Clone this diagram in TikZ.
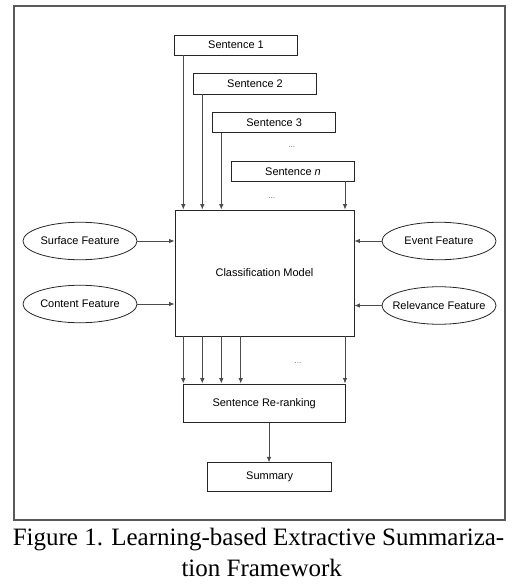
\documentclass[tikz,border=0pt]{standalone}
\usepackage{fontspec}
\setmainfont{Liberation Serif}
\newfontfamily\diag{Liberation Sans}
\usetikzlibrary{shapes.geometric,arrows.meta}
\begin{document}
\begin{tikzpicture}[x=1pt,y=-1pt,
  box/.style={draw=black!85, line width=0.8pt, inner sep=0pt, rectangle,
    font=\diag\fontsize{11}{13}\selectfont},
  feat/.style={draw=black!85, line width=0.8pt, inner ysep=0pt, inner xsep=-12pt, ellipse,
    minimum width=114pt, minimum height=37.5pt,
    font=\diag\fontsize{11}{13}\selectfont},
  arr/.style={draw=black!70, line width=0.8pt, -{Latex[length=5.5pt,width=4.5pt]}},
  dots/.style={font=\diag\fontsize{8}{9}\selectfont, text=black!60, inner sep=0pt},
  frame/.style={draw=black!65, line width=1.3pt},
  captext/.style={font=\fontsize{25}{30}\selectfont, anchor=base, inner sep=0pt}]
\useasboundingbox (0,0) rectangle (523,586);
\draw[frame] (14,6) rectangle (505,520);
% sentence boxes
\node[box, minimum width=123.4pt, minimum height=20pt] (s1) at (236,45) {Sentence 1};
\node[box, minimum width=123.4pt, minimum height=20.5pt] (s2) at (255,83.7) {Sentence 2};
\node[box, minimum width=123pt, minimum height=20pt] (s3) at (274.2,122.7) {Sentence 3};
\node[box, minimum width=122.6pt, minimum height=19.3pt] (sn) at (293,171.3) {Sentence \textit{n}};
\node[dots] (d1) at (291.7,146.7) {...};
\node[dots] (d2) at (271.7,197.7) {...};
% main
\node[box, minimum width=179pt, minimum height=126pt] (cls) at (264.5,273) {Classification Model};
\node[box, minimum width=161.7pt, minimum height=38.7pt] (rr) at (264.2,403.3) {Sentence Re-ranking};
\node[box, minimum width=124pt, minimum height=28.3pt] (sum) at (269.7,477) {Summary};
\node[dots] (d3) at (298,363) {...};
% features
\node[feat] (sf) at (80,241) {Surface Feature};
\node[feat] (cf) at (80,304) {Content Feature};
\node[feat] (ef) at (439,241) {Event Feature};
\node[feat] (rf) at (439,305.5) {Relevance Feature};
% x positions
\coordinate (x1) at (183.3,0);
\coordinate (x2) at (202.3,0);
\coordinate (x3) at (221.3,0);
\coordinate (x4) at (240.7,0);
\coordinate (x5) at (345,0);
\coordinate (x6) at (269,0);
% sentence arrows
\draw[arr] (s1.south -| x1) -- (cls.north -| x1);
\draw[arr] (s2.south -| x2) -- (cls.north -| x2);
\draw[arr] (s3.south -| x3) -- (cls.north -| x3);
\draw[arr] (sn.south -| x5) -- (cls.north -| x5);
% output arrows
\draw[arr] (cls.south -| x1) -- (rr.north -| x1);
\draw[arr] (cls.south -| x2) -- (rr.north -| x2);
\draw[arr] (cls.south -| x3) -- (rr.north -| x3);
\draw[arr] (cls.south -| x4) -- (rr.north -| x4);
\draw[arr] (cls.south -| x5) -- (rr.north -| x5);
\draw[arr] (rr.south -| x6) -- (sum.north -| x6);
% feature arrows
\draw[arr] (sf.east) -- (sf.east -| cls.west);
\draw[arr] (cf.east) -- (cf.east -| cls.west);
\draw[arr] (ef.west) -- (ef.west -| cls.east);
\draw[arr] (rf.west) -- (rf.west -| cls.east);
% caption
\node[captext] (c1) at (258.5,545) {Figure 1. Learning-based Extractive Summariza-};
\node[captext] (c2) at (261.7,576.7) {tion Framework};
\end{tikzpicture}
\end{document}
